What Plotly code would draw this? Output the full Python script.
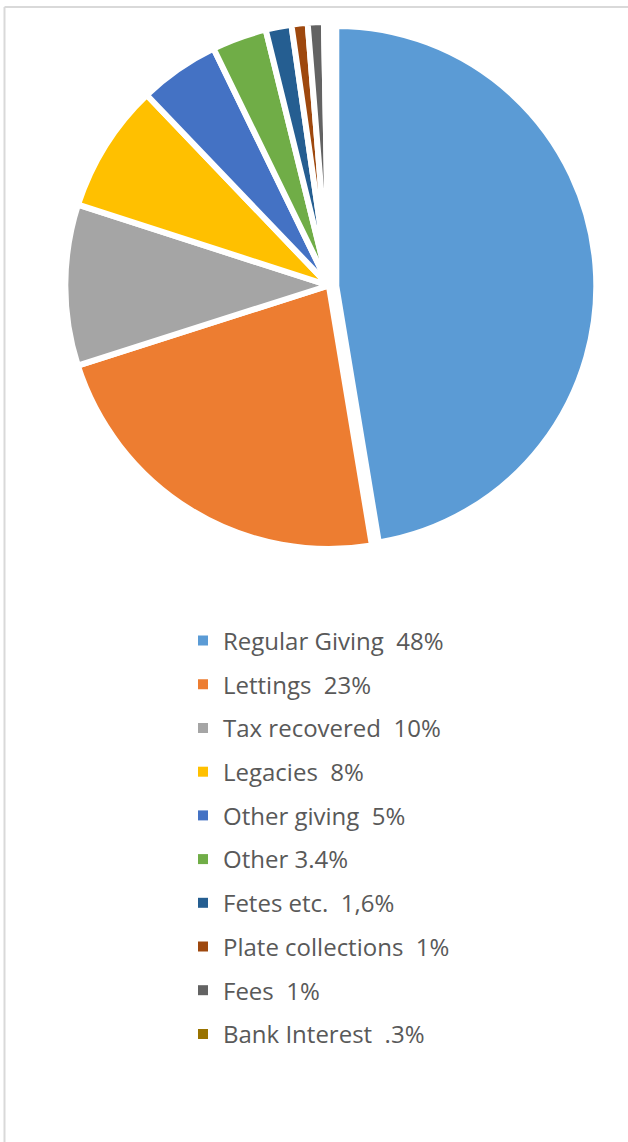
import plotly.graph_objects as go

categories = ["Regular Giving", "Lettings", "Tax recovered", "Legacies", "Other giving",
              "Other", "Fetes etc.", "Plate collections", "Fees", "Bank Interest"]
values = [48, 23, 10, 8, 5, 3.4, 1.6, 1, 1, 0.3]
legend_labels = ["Regular Giving \u00a048%", "Lettings \u00a023%", "Tax recovered \u00a010%",
                 "Legacies \u00a08%", "Other giving \u00a05%", "Other 3.4%", "Fetes etc. \u00a01,6%",
                 "Plate collections \u00a01%", "Fees \u00a01%", "Bank Interest \u00a0.3%"]
colors = ["#5B9BD5", "#ED7D31", "#A5A5A5", "#FFC000", "#4472C4",
          "#70AD47", "#255E91", "#9E480E", "#636363", "#997300"]

W, H = 628, 1142
CLEAR = "rgba(0,0,0,0)"

fig = go.Figure()
# all slices except the exploded first one
fig.add_trace(go.Pie(
    labels=categories, values=values, sort=False, direction="clockwise", rotation=0,
    marker=dict(colors=[CLEAR] + colors[1:],
                line=dict(color="white", width=[0] + [6] * (len(values) - 1))),
    textinfo="none", hoverinfo="label+percent", showlegend=False,
    domain=dict(x=[0.0736, 0.9736], y=[0.51926, 0.98074]),
))
# the exploded "Regular Giving" slice
fig.add_trace(go.Pie(
    labels=categories, values=values, sort=False, direction="clockwise", rotation=0,
    marker=dict(colors=[colors[0]] + [CLEAR] * (len(values) - 1),
                line=dict(color="white", width=[6] + [0] * (len(values) - 1))),
    textinfo="none", hoverinfo="skip", showlegend=False,
    domain=dict(x=[0.0855, 0.9855], y=[0.52189, 0.97723]),
))

for lab, col in zip(legend_labels, colors):
    fig.add_trace(go.Scatter(
        x=[0], y=[0], mode="markers", name=lab, legendgroup=lab,
        marker=dict(symbol="square", size=10, color=col, line=dict(width=0)),
        hoverinfo="skip", showlegend=True,
    ))

fig.update_layout(
    width=W, height=H,
    margin=dict(l=0, r=0, t=0, b=0),
    paper_bgcolor="white", plot_bgcolor="rgba(0,0,0,0)",
    xaxis=dict(visible=False, range=[10, 11]),
    yaxis=dict(visible=False, range=[10, 11]),
    legend=dict(x=183 / W, y=1 - 618.5 / H, xanchor="left", yanchor="top",
                tracegroupgap=9.5, bgcolor="rgba(0,0,0,0)",
                font=dict(family="Open Sans", size=24, color="#595959")),
    shapes=[
        dict(type="line", xref="paper", yref="paper", x0=4.5 / W, x1=1.01, y0=1 - 7 / H, y1=1 - 7 / H,
             line=dict(color="#D9D9D9", width=2)),
        dict(type="line", xref="paper", yref="paper", x0=4.5 / W, x1=4.5 / W, y0=1 - 7 / H, y1=-0.01,
             line=dict(color="#D9D9D9", width=2)),
    ],
)

fig.write_html("out.html")
